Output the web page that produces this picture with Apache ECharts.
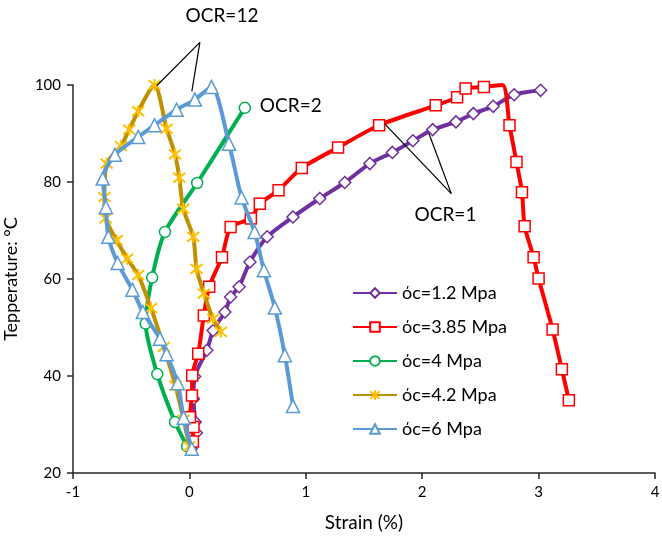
<!DOCTYPE html>
<html>
<head>
<meta charset="utf-8">
<script src="https://cdn.jsdelivr.net/npm/echarts@6/dist/echarts.min.js"></script>
<style>
  html, body { margin: 0; padding: 0; background: #fff; }
  #chart { width: 662px; height: 540px; }
</style>
</head>
<body>
<div id="chart"></div>
<script>
// Strain (%) vs temperature (°C) for each confining stress
const seriesNames = ['όc=1.2 Mpa', 'όc=3.85 Mpa', 'όc=4 Mpa', 'όc=4.2 Mpa', 'όc=6 Mpa'];

const s1_2 = [
  [0.015, 25.0], [0.06, 28.3], [0.05, 30.5], [0.035, 35.3], [0.045, 39.9], [0.15, 45.3],
  [0.204, 49.4], [0.305, 53.2], [0.354, 56.3], [0.427, 58.4], [0.52, 63.5], [0.668, 68.7],
  [0.89, 72.8], [1.12, 76.6], [1.335, 79.9], [1.55, 83.8], [1.744, 86.1], [1.92, 88.5],
  [2.09, 90.8], [2.29, 92.4], [2.44, 94.1], [2.61, 95.6], [2.79, 98.0], [3.017, 98.9]
];

const s3_85 = [
  [0.03, 26.5], [0.035, 29.5], [0.004, 31.5], [0.022, 36.0], [0.024, 40.1], [0.076, 44.6],
  [0.124, 52.5], [0.17, 58.4], [0.28, 64.5], [0.354, 70.7], [0.528, 72.5], [0.605, 75.5],
  [0.766, 78.3], [0.966, 82.9], [1.277, 87.1], [1.63, 91.7], [2.116, 95.8], [2.3, 97.5],
  [2.373, 99.3], [2.53, 99.6], [2.69, 100.0], [2.75, 91.7], [2.81, 84.1], [2.857, 77.9],
  [2.88, 70.9], [2.957, 64.5], [3.0, 60.1], [3.12, 49.6], [3.2, 41.4], [3.26, 35.0]
];
// the turning point at the top of the 3.85 Mpa curve carries no marker
const s3_85Unmarked = [20];

const s4 = [
  [-0.02, 25.5], [-0.124, 30.5], [-0.276, 40.4], [-0.376, 50.8], [-0.32, 60.3],
  [-0.21, 69.7], [0.067, 79.8], [0.476, 95.3]
];

const s4_2 = [
  [0.0, 25.5], [-0.05, 31.0], [-0.12, 38.0], [-0.22, 46.0], [-0.33, 54.0], [-0.44, 60.8],
  [-0.534, 64.2], [-0.625, 68.0], [-0.72, 72.5], [-0.73, 76.9], [-0.711, 83.8],
  [-0.588, 87.4], [-0.517, 90.8], [-0.44, 94.6], [-0.30, 100.0], [-0.196, 91.0],
  [-0.124, 85.7], [-0.087, 80.9], [-0.053, 74.5], [0.033, 68.7], [0.062, 62.1],
  [0.125, 57.0], [0.204, 51.8], [0.27, 49.1]
];

const s6 = [
  [0.02, 25.0], [-0.05, 31.4], [-0.1, 38.5], [-0.196, 44.5], [-0.253, 47.7], [-0.40, 53.2],
  [-0.49, 57.8], [-0.616, 63.3], [-0.697, 68.7], [-0.717, 74.8], [-0.745, 80.7],
  [-0.64, 85.6], [-0.44, 89.3], [-0.30, 91.7], [-0.11, 94.9], [0.047, 97.0], [0.19, 99.6],
  [0.34, 87.9], [0.448, 76.8], [0.56, 69.7], [0.64, 61.8], [0.734, 54.1], [0.82, 44.3],
  [0.89, 33.8]
];

// axis ranges and ticks
const xTicks = [-1, 0, 1, 2, 3, 4];
const yTicks = [20, 40, 60, 80, 100];

// OCR call-outs, in data units: label position and leader lines
const ocr12Label = { text: 'OCR=12', at: [0.28, 114.2] };
const ocr12Lines = [[[0.09, 108.8], [-0.279, 99.9]], [[0.09, 108.8], [0.021, 98.7]]];
const ocr2Label = { text: 'OCR=2', at: [0.605, 95.7] };
const ocr1Label = { text: 'OCR=1', at: [2.2, 73.2] };
const ocr1Lines = [[[2.25, 77.6], [1.678, 92.0]], [[2.25, 77.6], [2.058, 90.0]]];

const FONT = 'Lato, "Open Sans", sans-serif';
const asterisk = 'path://M1,1 L9,9 M9,1 L1,9 M5,0 L5,10';

const styles = [
  { line: '#7030A0', mark: '#7030A0', symbol: 'diamond', size: 12 },
  { line: '#FF0000', mark: '#FF0000', symbol: 'rect', size: 11 },
  { line: '#00B050', mark: '#00B050', symbol: 'circle', size: 11 },
  { line: '#BF9000', mark: '#FFC000', symbol: asterisk, size: 12 },
  { line: '#5B9BD5', mark: '#5B9BD5', symbol: 'triangle', size: 13 }
];
const allData = [s1_2, s3_85, s4, s4_2, s6];

const series = allData.map((d, i) => {
  const st = styles[i];
  const data = d.map((p, k) => {
    if (i === 1 && s3_85Unmarked.includes(k)) {
      return { value: p, symbol: 'none' };
    }
    return p;
  });
  return {
    name: seriesNames[i],
    type: 'line',
    data: data,
    smooth: 0.25,
    symbol: st.symbol,
    symbolSize: st.size,
    showAllSymbol: true,
    clip: false,
    lineStyle: { color: st.line, width: 4 },
    itemStyle: {
      color: i === 3 ? 'rgba(0,0,0,0)' : '#fff',
      borderColor: st.mark,
      borderWidth: i === 3 ? 2 : 1.5
    },
    emphasis: { disabled: true },
    z: 2 + i
  };
});

const chart = echarts.init(document.getElementById('chart'), null, { renderer: 'canvas' });

const axisCommon = {
  axisLine: { show: true, onZero: false, lineStyle: { color: '#262626', width: 1.5 } },
  axisTick: { show: true, inside: false, length: 6, lineStyle: { color: '#262626', width: 1.5 } },
  splitLine: { show: false },
  axisLabel: { color: '#000', fontSize: 15, fontFamily: FONT }
};

chart.setOption({
  animation: false,
  backgroundColor: '#fff',
  grid: { left: 73, right: 7, top: 85, bottom: 67, containLabel: false, outerBoundsMode: 'none' },
  xAxis: Object.assign({}, axisCommon, {
    type: 'value',
    min: xTicks[0], max: xTicks[xTicks.length - 1], interval: 1,
    name: 'Strain (%)', nameLocation: 'middle', nameGap: 40,
    nameTextStyle: { color: '#000', fontSize: 19, fontFamily: FONT },
    axisLabel: Object.assign({}, axisCommon.axisLabel, { margin: 12 })
  }),
  yAxis: Object.assign({}, axisCommon, {
    type: 'value',
    min: yTicks[0], max: yTicks[yTicks.length - 1], interval: 20,
    name: 'Tepperature: °C', nameLocation: 'middle', nameGap: 53,
    nameTextStyle: { color: '#000', fontSize: 18, fontFamily: FONT },
    axisLabel: Object.assign({}, axisCommon.axisLabel, { margin: 12 })
  }),
  legend: {
    orient: 'vertical',
    left: 347, top: 277,
    itemWidth: 44, itemHeight: 12,
    itemGap: 12,
    textStyle: { color: '#000', fontSize: 18, fontFamily: FONT, lineHeight: 22 },
    data: seriesNames
  },
  series: series
});

// leader lines and OCR labels placed from data coordinates
function px(p) { return chart.convertToPixel({ gridIndex: 0 }, p); }
const graphics = [];
ocr12Lines.concat(ocr1Lines).forEach(seg => {
  const a = px(seg[0]), b = px(seg[1]);
  graphics.push({
    type: 'line', silent: true, z: 20,
    shape: { x1: a[0], y1: a[1], x2: b[0], y2: b[1] },
    style: { stroke: '#000', lineWidth: 1.2 }
  });
});
[[ocr12Label, 'center'], [ocr1Label, 'center'], [ocr2Label, 'left']].forEach(([lab, align]) => {
  const p = px(lab.at);
  graphics.push({
    type: 'text', silent: true, z: 20,
    x: p[0], y: p[1],
    style: {
      text: lab.text, fill: '#000', fontSize: 19, fontFamily: FONT,
      align: align, verticalAlign: 'middle'
    }
  });
});
chart.setOption({ graphic: graphics });
</script>
</body>
</html>
